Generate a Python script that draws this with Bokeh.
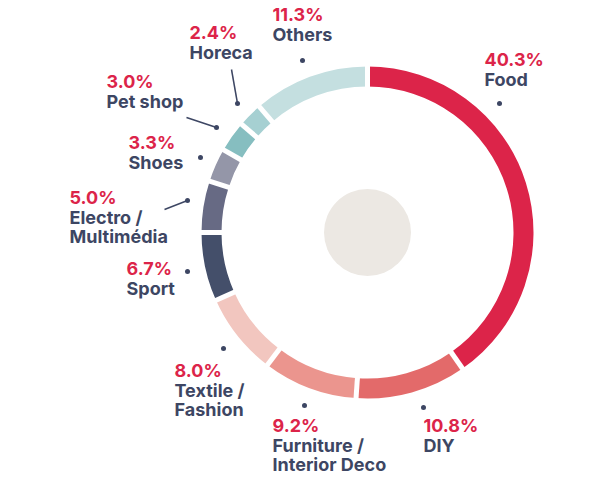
import math
from bokeh.plotting import figure
from bokeh.models import ColumnDataSource, Range1d
from bokeh.core.properties import value
from bokeh.embed import file_html
from bokeh.resources import INLINE

W, H = 606, 478

# ---- data ----
categories = ["Food", "DIY", "Furniture /\nInterior Deco", "Textile /\nFashion", "Sport",
              "Electro /\nMultimédia", "Shoes", "Pet shop", "Horeca", "Others"]
shares = [40.3, 10.8, 9.2, 8.0, 6.7, 5.0, 3.3, 3.0, 2.4, 11.3]
pct_labels = ["40.3%", "10.8%", "9.2%", "8.0%", "6.7%", "5.0%", "3.3%", "3.0%", "2.4%", "11.3%"]

# ---- style / layout ----
colors = ["#dc2449", "#e36a6a", "#eb958e", "#f2c6bf", "#444f6a",
          "#676a84", "#9496a8", "#86bec0", "#a6d0d2", "#c4dfe0"]
CX, CY = 367, 232
R_OUT, R_IN, R_CENTER = 166, 146, 43.5
GAP = 5
RED = "#dc2449"
NAVY = "#3d4663"
FONT = "Inter"
FS = "18px"
LINE_H = 19.5
TEXT_DY = -7

# label anchor: (text left x, baseline of percent line), dot (x, y), leader start (x, y) or None
label_pos = [(484, 66), (423, 432), (272, 432), (174, 377), (126, 275),
             (69, 204), (128, 149), (106, 88), (189, 39), (272, 21)]
dot_pos = [(499, 103), (423, 407), (304, 405), (223, 348), (187, 271),
           (187, 200), (200, 157), (216, 127), (237, 103), (302, 60)]
leader_start = [None, None, None, None, None,
                (164, 209), None, (186, 117), (231, 69), None]


def Y(y):
    return H - y


p = figure(width=W, height=H, output_backend="svg", toolbar_location=None,
           x_axis_location=None, y_axis_location=None, min_border=0,
           x_range=Range1d(0, W), y_range=Range1d(0, H))
p.outline_line_color = None
p.grid.visible = False
p.background_fill_color = "white"
p.border_fill_color = "white"

total = sum(shares)
starts, ends = [], []
cum = 0.0
for s in shares:
    starts.append(math.pi / 2 - cum / total * 2 * math.pi)
    cum += s
    ends.append(math.pi / 2 - cum / total * 2 * math.pi)

src = ColumnDataSource(dict(x=[CX] * len(shares), y=[Y(CY)] * len(shares),
                            start=starts, end=ends, color=colors))
p.annular_wedge(x="x", y="y", inner_radius=R_IN, outer_radius=R_OUT,
                start_angle="start", end_angle="end", direction="clock",
                fill_color="color", line_color=None, source=src)

# white gaps at boundaries
gx0, gy0, gx1, gy1 = [], [], [], []
for a in starts:
    gx0.append(CX + (R_IN - 6) * math.cos(a))
    gy0.append(Y(CY) + (R_IN - 6) * math.sin(a))
    gx1.append(CX + (R_OUT + 6) * math.cos(a))
    gy1.append(Y(CY) + (R_OUT + 6) * math.sin(a))
p.segment(x0=gx0, y0=gy0, x1=gx1, y1=gy1, line_color="white", line_width=GAP)

# center disc
p.scatter(x=[CX], y=[Y(CY)], size=2 * R_CENTER, fill_color="#ece8e3", line_color=None)

# leaders and dots
lx0, ly0, lx1, ly1 = [], [], [], []
for st, d in zip(leader_start, dot_pos):
    if st is not None:
        lx0.append(st[0]); ly0.append(Y(st[1])); lx1.append(d[0]); ly1.append(Y(d[1]))
p.segment(x0=lx0, y0=ly0, x1=lx1, y1=ly1, line_color=NAVY, line_width=1.5)
p.scatter(x=[d[0] for d in dot_pos], y=[Y(d[1]) for d in dot_pos], size=5,
          fill_color=NAVY, line_color=None)

# labels
px, py, nx, ny, nt = [], [], [], [], []
for (x, y), cat in zip(label_pos, categories):
    px.append(x); py.append(Y(y + TEXT_DY))
    for i, line in enumerate(cat.split("\n")):
        nx.append(x); ny.append(Y(y + TEXT_DY + LINE_H * (i + 1))); nt.append(line)
p.text(x=px, y=py, text=pct_labels, text_color=RED, text_font=value(FONT),
       text_font_style="bold", text_font_size=FS, text_baseline="alphabetic", text_align="left")
p.text(x=nx, y=ny, text=nt, text_color=NAVY, text_font=value(FONT),
       text_font_style="bold", text_font_size=FS, text_baseline="alphabetic", text_align="left")

open("out.html", "w").write(file_html(p, INLINE))
